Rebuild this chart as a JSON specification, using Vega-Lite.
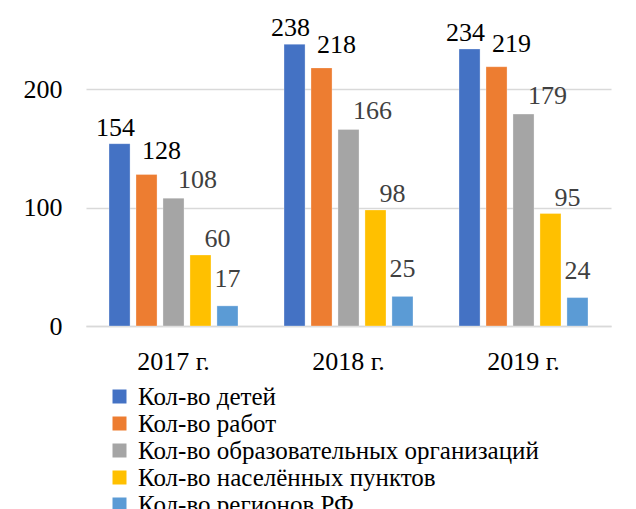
{
  "$schema": "https://vega.github.io/schema/vega-lite/v6.json",
  "autosize": "none",
  "width": 525,
  "height": 296,
  "padding": {"left": 86, "top": 30, "right": 25, "bottom": 183},
  "background": "white",
  "config": {
    "view": {"stroke": null},
    "font": "Liberation Serif",
    "text": {"font": "Liberation Serif"},
    "legend": {"labelFont": "Liberation Serif", "titleFont": "Liberation Serif"},
    "axis": {"labelFont": "Liberation Serif", "labelFontSize": 26, "labelColor": "#000", "title": null}
  },
  "data": {
    "values": [
      {"year": "2017 г.", "series": "Кол-во детей", "value": 154},
      {"year": "2017 г.", "series": "Кол-во работ", "value": 128},
      {"year": "2017 г.", "series": "Кол-во образовательных организаций", "value": 108},
      {"year": "2017 г.", "series": "Кол-во населённых пунктов", "value": 60},
      {"year": "2017 г.", "series": "Кол-во регионов РФ", "value": 17},
      {"year": "2018 г.", "series": "Кол-во детей", "value": 238},
      {"year": "2018 г.", "series": "Кол-во работ", "value": 218},
      {"year": "2018 г.", "series": "Кол-во образовательных организаций", "value": 166},
      {"year": "2018 г.", "series": "Кол-во населённых пунктов", "value": 98},
      {"year": "2018 г.", "series": "Кол-во регионов РФ", "value": 25},
      {"year": "2019 г.", "series": "Кол-во детей", "value": 234},
      {"year": "2019 г.", "series": "Кол-во работ", "value": 219},
      {"year": "2019 г.", "series": "Кол-во образовательных организаций", "value": 179},
      {"year": "2019 г.", "series": "Кол-во населённых пунктов", "value": 95},
      {"year": "2019 г.", "series": "Кол-во регионов РФ", "value": 24}
    ]
  },
  "encoding": {
    "x": {
      "field": "year", "type": "nominal",
      "scale": {"paddingInner": 0.263, "paddingOuter": 0.1315},
      "axis": {"labelAngle": 0, "ticks": false, "domainColor": "#d9d9d9", "domainWidth": 1.5, "labelPadding": 43, "labelBaseline": "alphabetic"}
    },
    "xOffset": {
      "field": "series", "type": "nominal",
      "sort": ["Кол-во детей", "Кол-во работ", "Кол-во образовательных организаций", "Кол-во населённых пунктов", "Кол-во регионов РФ"],
      "scale": {"paddingInner": 0.22, "paddingOuter": 0}
    },
    "y": {
      "field": "value", "type": "quantitative",
      "scale": {"domain": [0, 250], "nice": false},
      "axis": {"values": [0, 100, 200], "domain": false, "ticks": false, "labelPadding": 24, "gridColor": "#d9d9d9", "gridWidth": 1.5}
    }
  },
  "layer": [
    {
      "mark": {"type": "bar", "stroke": "white", "strokeWidth": 0.5, "strokeOpacity": 0.6},
      "encoding": {
        "color": {
          "field": "series", "type": "nominal",
          "sort": ["Кол-во детей", "Кол-во работ", "Кол-во образовательных организаций", "Кол-во населённых пунктов", "Кол-во регионов РФ"],
          "scale": {
            "domain": ["Кол-во детей", "Кол-во работ", "Кол-во образовательных организаций", "Кол-во населённых пунктов", "Кол-во регионов РФ"],
            "range": ["#4472C4", "#ED7D31", "#A5A5A5", "#FFC000", "#5B9BD5"]
          },
          "legend": {
            "title": null, "orient": "none", "legendX": 21, "legendY": 354,
            "direction": "vertical", "symbolType": "square", "symbolSize": 196,
            "symbolStrokeWidth": 0, "labelFont": "Liberation Serif", "labelFontSize": 25,
            "labelColor": "#000", "labelLimit": 1000, "labelOffset": 6, "rowPadding": 1
          }
        }
      }
    },
    {
      "transform": [{"filter": "datum.series === 'Кол-во детей'"}],
      "mark": {"type": "text", "font": "Liberation Serif", "fontSize": 26, "baseline": "alphabetic", "dx": -4, "dy": -8, "color": "#000"},
      "encoding": {"text": {"field": "value", "type": "quantitative"}}
    },
    {
      "transform": [{"filter": "datum.series === 'Кол-во работ'"}],
      "mark": {"type": "text", "font": "Liberation Serif", "fontSize": 26, "baseline": "alphabetic", "dx": 15, "dy": -15, "color": "#000"},
      "encoding": {"text": {"field": "value", "type": "quantitative"}}
    },
    {
      "transform": [{"filter": "datum.series === 'Кол-во образовательных организаций'"}],
      "mark": {"type": "text", "font": "Liberation Serif", "fontSize": 26, "baseline": "alphabetic", "dx": 24, "dy": -10, "color": "#404040"},
      "encoding": {"text": {"field": "value", "type": "quantitative"}}
    },
    {
      "transform": [{"filter": "datum.series === 'Кол-во населённых пунктов'"}],
      "mark": {"type": "text", "font": "Liberation Serif", "fontSize": 26, "baseline": "alphabetic", "dx": 17, "dy": -8, "color": "#404040"},
      "encoding": {"text": {"field": "value", "type": "quantitative"}}
    },
    {
      "transform": [{"filter": "datum.series === 'Кол-во регионов РФ'"}],
      "mark": {"type": "text", "font": "Liberation Serif", "fontSize": 26, "baseline": "alphabetic", "dx": 0, "dy": -19, "color": "#404040"},
      "encoding": {"text": {"field": "value", "type": "quantitative"}}
    }
  ]
}
